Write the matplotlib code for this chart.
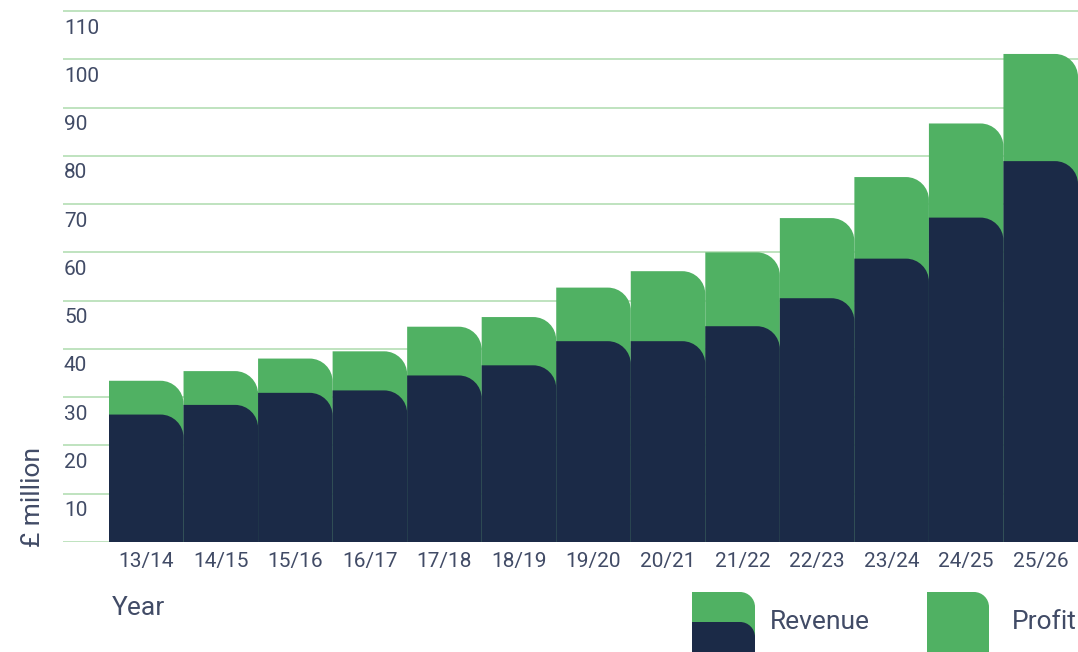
import matplotlib
matplotlib.use('Agg')
import matplotlib.pyplot as plt
from matplotlib.path import Path
from matplotlib.patches import PathPatch

plt.rcParams['font.family'] = ['Roboto', 'DejaVu Sans']

# data (£ million)
years = ['13/14', '14/15', '15/16', '16/17', '17/18', '18/19', '19/20',
         '20/21', '21/22', '22/23', '23/24', '24/25', '25/26']
revenue = [26.4, 28.4, 30.9, 31.4, 34.5, 36.6, 41.6, 41.6, 44.7, 50.5, 58.7, 67.2, 78.9]
profit = [7.0, 7.0, 7.1, 8.1, 10.1, 10.0, 11.1, 14.5, 15.3, 16.6, 16.9, 19.5, 22.2]
y_ticks = [10, 20, 30, 40, 50, 60, 70, 80, 90, 100, 110]

GREEN = '#50b163'
NAVY = '#1b2a47'
GRID = '#bfe3bf'
TEXT = '#414b66'
WEIGHT = 'normal'

W, H, DPI = 1078, 652, 100
K = 0.5523


def corner_path(x0, y0, w, h, rx, ry):
    """rectangle with only the top-right corner rounded"""
    x1, y1 = x0 + w, y0 + h
    verts = [(x0, y0), (x0, y1), (x1 - rx, y1),
             (x1 - rx + K * rx, y1), (x1, y1 - ry + K * ry), (x1, y1 - ry),
             (x1, y0), (x0, y0)]
    codes = [Path.MOVETO, Path.LINETO, Path.LINETO,
             Path.CURVE4, Path.CURVE4, Path.CURVE4,
             Path.LINETO, Path.CLOSEPOLY]
    return Path(verts, codes)


fig = plt.figure(figsize=(W / DPI, H / DPI), dpi=DPI)
left_px, right_px, bottom_px, top_px = 63, 1078, 542, 6
ax = fig.add_axes([left_px / W, 1 - bottom_px / H,
                   (right_px - left_px) / W, (bottom_px - top_px) / H])

n = len(years)
bar_px = (1078 - 109) / n
x_left = -0.5 - (109 - left_px) / bar_px
ax.set_xlim(x_left, n - 0.5)
ax.set_ylim(0, 110 + (11 - top_px) / ((bottom_px - 11) / 110))

# radius of the rounded corner, in data units (about 23 px)
rx = 23 / bar_px
ry = 23 / ((bottom_px - 11) / 110)

for i in range(n):
    total = revenue[i] + profit[i]
    ax.add_patch(PathPatch(corner_path(i - 0.5, 0, 1, total, rx, ry),
                           facecolor=GREEN, edgecolor='none', zorder=2))
    ax.add_patch(PathPatch(corner_path(i - 0.5, 0, 1, revenue[i], rx, ry),
                           facecolor=NAVY, edgecolor='none', zorder=3))

for v in [0] + y_ticks:
    ax.axhline(v, color=GRID, lw=1.4, zorder=1)
for v in y_ticks:
    ax.annotate(str(v), xy=(0, v), xycoords=('axes fraction', 'data'),
                xytext=(1, -17), textcoords='offset pixels',
                ha='left', va='center', fontsize=15, color=TEXT,
                fontweight=WEIGHT)

ax.set_xticks(range(n))
ax.set_xticklabels(years, fontsize=15, color=TEXT, fontweight=WEIGHT)
ax.tick_params(axis='x', length=0, pad=7.5)
ax.set_yticks([])
for s in ax.spines.values():
    s.set_visible(False)

fig.text(112 / W, 1 - 608 / H, 'Year', ha='left', va='center',
         fontsize=19, color=TEXT, fontweight=WEIGHT)
fig.text(33 / W, 1 - 497 / H, '£ million', ha='center', va='center',
         rotation=90, fontsize=19, color=TEXT, fontweight=WEIGHT)

# legend swatches (cut off by the bottom edge like the original)
lrx, lry = 15 / W, 15 / H
fig.patches.append(PathPatch(corner_path(692 / W, -0.05, 63 / W, 1 - 592 / H + 0.05, lrx, lry),
                             facecolor=GREEN, edgecolor='none', transform=fig.transFigure))
fig.patches.append(PathPatch(corner_path(692 / W, -0.05, 63 / W, 1 - 622 / H + 0.05, lrx, lry),
                             facecolor=NAVY, edgecolor='none', transform=fig.transFigure))
fig.patches.append(PathPatch(corner_path(927 / W, -0.05, 62 / W, 1 - 592 / H + 0.05, lrx, lry),
                             facecolor=GREEN, edgecolor='none', transform=fig.transFigure))
fig.text(770 / W, 1 - 622 / H, 'Revenue', ha='left', va='center',
         fontsize=19, color=TEXT, fontweight=WEIGHT)
fig.text(1012 / W, 1 - 622 / H, 'Profit', ha='left', va='center',
         fontsize=19, color=TEXT, fontweight=WEIGHT)

fig.savefig('out.png', dpi=DPI)
